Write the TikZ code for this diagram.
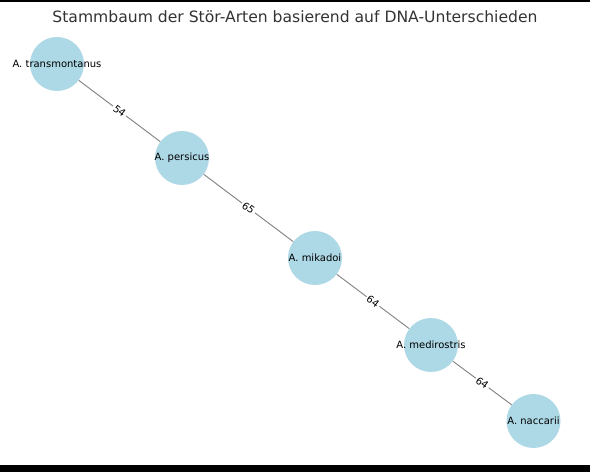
\documentclass[tikz,border=0pt]{standalone}
\usepackage{fontspec}
\setmainfont{DejaVu Sans}
\definecolor{nodeblue}{HTML}{ADD8E6}
\definecolor{edgegray}{HTML}{808080}
\begin{document}
\begin{tikzpicture}[x=1pt,y=1pt,
  species/.style={circle,fill=nodeblue,minimum size=54pt,inner sep=0pt,font=\fontsize{10}{12}\selectfont},
  link/.style={draw=edgegray,line width=0.9pt},
  weight/.style={midway,sloped,fill=white,inner sep=1.5pt,font=\fontsize{10}{12}\selectfont}]
\useasboundingbox (0,0) rectangle (590,472);
\fill[white] (0,0) rectangle (590,472);
\fill[black] (0,469.5) rectangle (590,472);
\fill[black] (0,0) rectangle (590,7);
\node[font=\fontsize{15.6}{18}\selectfont,text=black!80] (title) at (295,455) {Stammbaum der Stör-Arten basierend auf DNA-Unterschieden};
\node[species] (t) at (57,408) {};
\node[species] (p) at (182,314) {};
\node[species] (m) at (315,214) {};
\node[species] (d) at (431,127) {};
\node[species] (n) at (533.5,51) {};
\draw[link] (t) -- node[weight] (w1) {54} (p);
\draw[link] (p) -- node[weight] (w2) {65} (m);
\draw[link] (m) -- node[weight] (w3) {64} (d);
\draw[link] (d) -- node[weight] (w4) {64} (n);
\node[font=\fontsize{10}{12}\selectfont] (lt) at (t) {A. transmontanus};
\node[font=\fontsize{10}{12}\selectfont] (lp) at (p) {A. persicus};
\node[font=\fontsize{10}{12}\selectfont] (lm) at (m) {A. mikadoi};
\node[font=\fontsize{10}{12}\selectfont] (ld) at (d) {A. medirostris};
\node[font=\fontsize{10}{12}\selectfont] (ln) at (n) {A. naccarii};
\end{tikzpicture}
\end{document}
